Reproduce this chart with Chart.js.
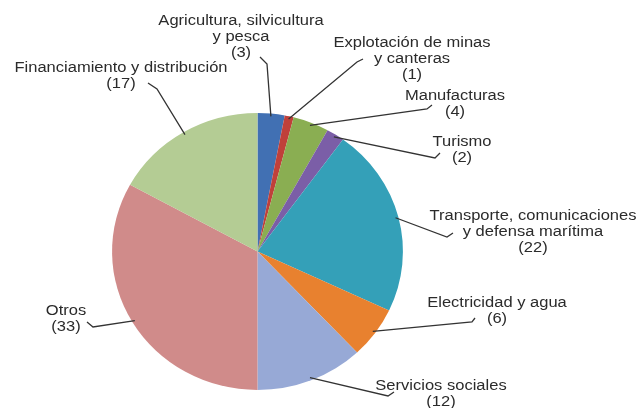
<!DOCTYPE html>
<html>
<head>
<meta charset="utf-8">
<script src="https://cdn.jsdelivr.net/npm/chart.js@4/dist/chart.umd.min.js"></script>
<style>
  html, body { margin: 0; padding: 0; background: #fff; }
  #wrap { width: 640px; height: 408px; position: relative; }
</style>
</head>
<body>
<div id="wrap"><canvas id="pie"></canvas></div>
<script>
// sector names (split into text lines) and shares
const categories = [
    ['Agricultura, silvicultura', 'y pesca'],
    ['Explotación de minas', 'y canteras'],
    ['Manufacturas'],
    ['Turismo'],
    ['Transporte, comunicaciones', 'y defensa marítima'],
    ['Electricidad y agua'],
    ['Servicios sociales'],
    ['Otros'],
    ['Financiamiento y distribución']
];
const values = [3, 1, 4, 2, 22, 6, 12, 33, 17];
const colors = ['#4170b3', '#c0403a', '#8aae52', '#7b5ea7', '#34a0b8', '#e8812f', '#97a9d6', '#d08b8a', '#b4cc94'];

// label placement: text center, first line y, leader end point, hook end point
const labelLayout = [
    { x: 241, y: 21, end: [267, 64], hook: [260, 57] },
    { x: 412, y: 43, end: [357, 62], hook: [363, 59] },
    { x: 455, y: 96, end: [427, 109], hook: [432, 105] },
    { x: 462, y: 142, end: [435, 158], hook: [440, 153] },
    { x: 533, y: 216, end: [447, 237], hook: [453, 233] },
    { x: 497, y: 303, end: [472, 322], hook: [475, 318] },
    { x: 441, y: 386, end: [388, 396], hook: [394, 392] },
    { x: 66, y: 311, end: [93, 327], hook: [87, 322] },
    { x: 121, y: 68, end: [157, 89], hook: [148, 83] }
];
const PIE_STRETCH = 1.05;   // reference pie is slightly wider than tall
const TEXT_STRETCH = 1.18;

const labelPlugin = {
    id: 'sliceLabels',
    beforeDatasetsDraw(chart) {
        const arc = chart.getDatasetMeta(0).data[0];
        const ctx = chart.ctx;
        ctx.save();
        ctx.translate(arc.x, arc.y);
        ctx.scale(PIE_STRETCH, 1);
        ctx.translate(-arc.x, -arc.y);
    },
    afterDatasetsDraw(chart) {
        const ctx = chart.ctx;
        ctx.restore();
        const arcs = chart.getDatasetMeta(0).data;
        ctx.save();
        ctx.font = '14px "Liberation Sans", Arial, sans-serif';
        ctx.textAlign = 'center';
        ctx.textBaseline = 'middle';
        arcs.forEach((arc, i) => {
            const lay = labelLayout[i];
            const mid = (arc.startAngle + arc.endAngle) / 2;
            const r = arc.outerRadius * 0.98;
            const sx = arc.x + Math.cos(mid) * r * PIE_STRETCH;
            const sy = arc.y + Math.sin(mid) * r;

            ctx.strokeStyle = '#333';
            ctx.lineWidth = 1.3;
            ctx.beginPath();
            ctx.moveTo(sx, sy);
            ctx.lineTo(lay.end[0], lay.end[1]);
            ctx.lineTo(lay.hook[0], lay.hook[1]);
            ctx.stroke();

            ctx.fillStyle = '#2b2b2b';
            const lines = categories[i].concat(['(' + values[i] + ')']);
            lines.forEach((t, k) => {
                ctx.save();
                ctx.translate(lay.x, lay.y + k * 16);
                ctx.scale(TEXT_STRETCH, 1);
                ctx.fillText(t, 0, 0);
                ctx.restore();
            });
        });
        ctx.restore();
    }
};

new Chart(document.getElementById('pie'), {
    type: 'pie',
    data: {
        labels: categories.map(c => c.join(' ')),
        datasets: [{
            data: values,
            backgroundColor: colors,
            borderWidth: 0
        }]
    },
    options: {
        responsive: true,
        maintainAspectRatio: false,
        animation: false,
        layout: { padding: { left: 119, right: 244, top: 113, bottom: 18 } },
        plugins: {
            legend: { display: false },
            tooltip: { enabled: false }
        }
    },
    plugins: [labelPlugin]
});
</script>
</body>
</html>
